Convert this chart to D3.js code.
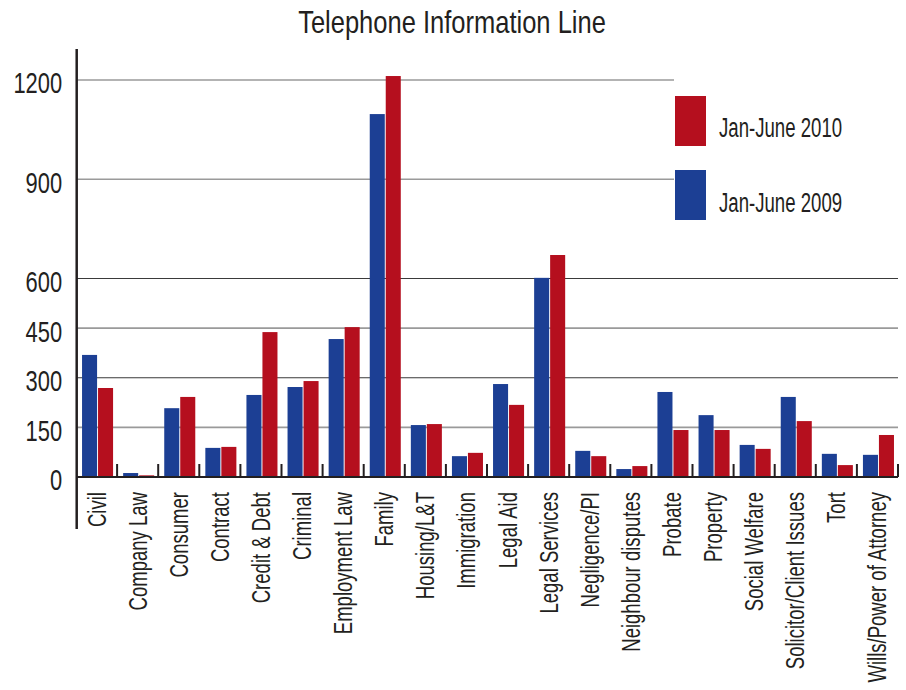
<!DOCTYPE html>
<html>
<head>
<meta charset="utf-8">
<script src="https://cdn.jsdelivr.net/npm/d3@7"></script>
<style>
  body { margin: 0; background: #fff; }
  text { font-family: "Liberation Sans", Arial, sans-serif; fill: #231f20; }
</style>
</head>
<body>
<svg id="chart" width="906" height="690"></svg>
<script>
var categories = ["Civil", "Company Law", "Consumer", "Contract", "Credit & Debt", "Criminal",
  "Employment Law", "Family", "Housing/L&T", "Immigration", "Legal Aid", "Legal Services",
  "Negligence/PI", "Neighbour disputes", "Probate", "Property", "Social Welfare",
  "Solicitor/Client Issues", "Tort", "Wills/Power of Attorney"];
var jun2009 = [369, 12, 208, 88, 248, 272, 417, 1097, 157, 63, 281, 602, 79, 24, 257, 187, 97, 242, 70, 67];
var jun2010 = [269, 5, 242, 91, 438, 290, 453, 1212, 160, 73, 218, 671, 63, 33, 142, 142, 85, 169, 36, 127];
var seriesNames = ["Jan-June 2009", "Jan-June 2010"];
var yTicks = [0, 150, 300, 450, 600, 900, 1200];

var colors = {"Jan-June 2009": "#1c3f94", "Jan-June 2010": "#b50f1e"};

var svg = d3.select("#chart"),
    margin = {top: 80, right: 8, bottom: 213, left: 76},
    width = 822,
    height = 690 - margin.top - margin.bottom,
    g = svg.append("g").attr("transform", "translate(" + margin.left + "," + margin.top + ")");

// no narrow font installed, so squeeze Liberation Sans sideways
var narrow = 0.7;

var x0 = d3.scaleBand()
    .domain(categories)
    .range([0, width])
    .paddingInner(0.245)
    .paddingOuter(0.1225)
    .align(0.6);

var x1 = d3.scaleBand()
    .domain(seriesNames)
    .range([0, x0.bandwidth()])
    .paddingInner(0.06);

var y = d3.scaleLinear()
    .domain([0, 1200])
    .range([height, 0]);

var data = categories.map(function(c, i) {
  return {cat: c, values: [
    {key: seriesNames[0], value: jun2009[i]},
    {key: seriesNames[1], value: jun2010[i]}
  ]};
});

// title
svg.append("text")
    .attr("transform", "translate(452,33) scale(0.81,1)")
    .attr("text-anchor", "middle")
    .style("font-size", "31.5px")
    .text("Telephone Information Line");

// gridlines (upper ones stop at the legend)
g.selectAll(".grid")
    .data(yTicks.filter(function(d) { return d > 0; }))
  .enter().append("line")
    .attr("class", "grid")
    .attr("x1", 0)
    .attr("x2", function(d) { return d >= 900 ? 598 : width; })
    .attr("y1", function(d) { return y(d); })
    .attr("y2", function(d) { return y(d); })
    .attr("stroke", function(d) { return (d == 300 || d == 600) ? "#3a3a3a" : "#9a9a9a"; })
    .attr("stroke-width", function(d) { return (d == 300 || d == 600) ? 1.2 : 1.6; });

// y axis
var yAxis = g.append("g")
    .call(d3.axisLeft(y).tickValues(yTicks).tickFormat(d3.format("d")).tickSize(0).tickPadding(19));
yAxis.select(".domain").remove();
yAxis.selectAll("text")
    .attr("dy", "0.43em")
    .attr("transform", "scale(0.73,1)")
    .style("font-size", "30px")
    .style("font-family", "'Liberation Sans', Arial, sans-serif")
    .attr("fill", "#231f20");

g.append("line")
    .attr("x1", 0.7).attr("x2", 0.7)
    .attr("y1", -31).attr("y2", height + 52)
    .attr("stroke", "#231f20")
    .attr("stroke-width", 2.5);

// bars
var groups = g.selectAll(".cat")
    .data(data)
  .enter().append("g")
    .attr("class", "cat")
    .attr("transform", function(d) { return "translate(" + x0(d.cat) + ",0)"; });

groups.selectAll("rect")
    .data(function(d) { return d.values; })
  .enter().append("rect")
    .attr("x", function(d) { return x1(d.key); })
    .attr("width", x1.bandwidth())
    .attr("y", function(d) { return y(d.value); })
    .attr("height", function(d) { return height - y(d.value); })
    .attr("fill", function(d) { return colors[d.key]; });

// baseline and separating ticks
var step = x0.step();
g.append("line")
    .attr("x1", 0).attr("x2", width)
    .attr("y1", height).attr("y2", height)
    .attr("stroke", "#231f20")
    .attr("stroke-width", 2);

g.selectAll(".sep")
    .data(d3.range(1, categories.length + 1))
  .enter().append("line")
    .attr("class", "sep")
    .attr("x1", function(k) { return k * step; })
    .attr("x2", function(k) { return k * step; })
    .attr("y1", height)
    .attr("y2", height - 13)
    .attr("stroke", "#231f20")
    .attr("stroke-width", 2);

// category labels
g.selectAll(".catLabel")
    .data(categories)
  .enter().append("text")
    .attr("class", "catLabel")
    .attr("transform", function(d) {
      return "translate(" + (x0(d) + x0.bandwidth() / 2 + 8) + "," + (height + 15) + ") rotate(-90) scale(" + narrow + ",1)";
    })
    .attr("text-anchor", "end")
    .style("font-size", "26.5px")
    .text(function(d) { return d; });

// legend
var legend = svg.append("g");
var legendItems = ["Jan-June 2010", "Jan-June 2009"];
legendItems.forEach(function(name, i) {
  legend.append("rect")
      .attr("x", 675)
      .attr("y", 96 + 74 * i)
      .attr("width", 31)
      .attr("height", 50)
      .attr("fill", colors[name]);
  legend.append("text")
      .attr("transform", "translate(719," + (137 + 74.5 * i) + ") scale(0.665,1)")
      .style("font-size", "28px")
      .text(name);
});
</script>
</body>
</html>
